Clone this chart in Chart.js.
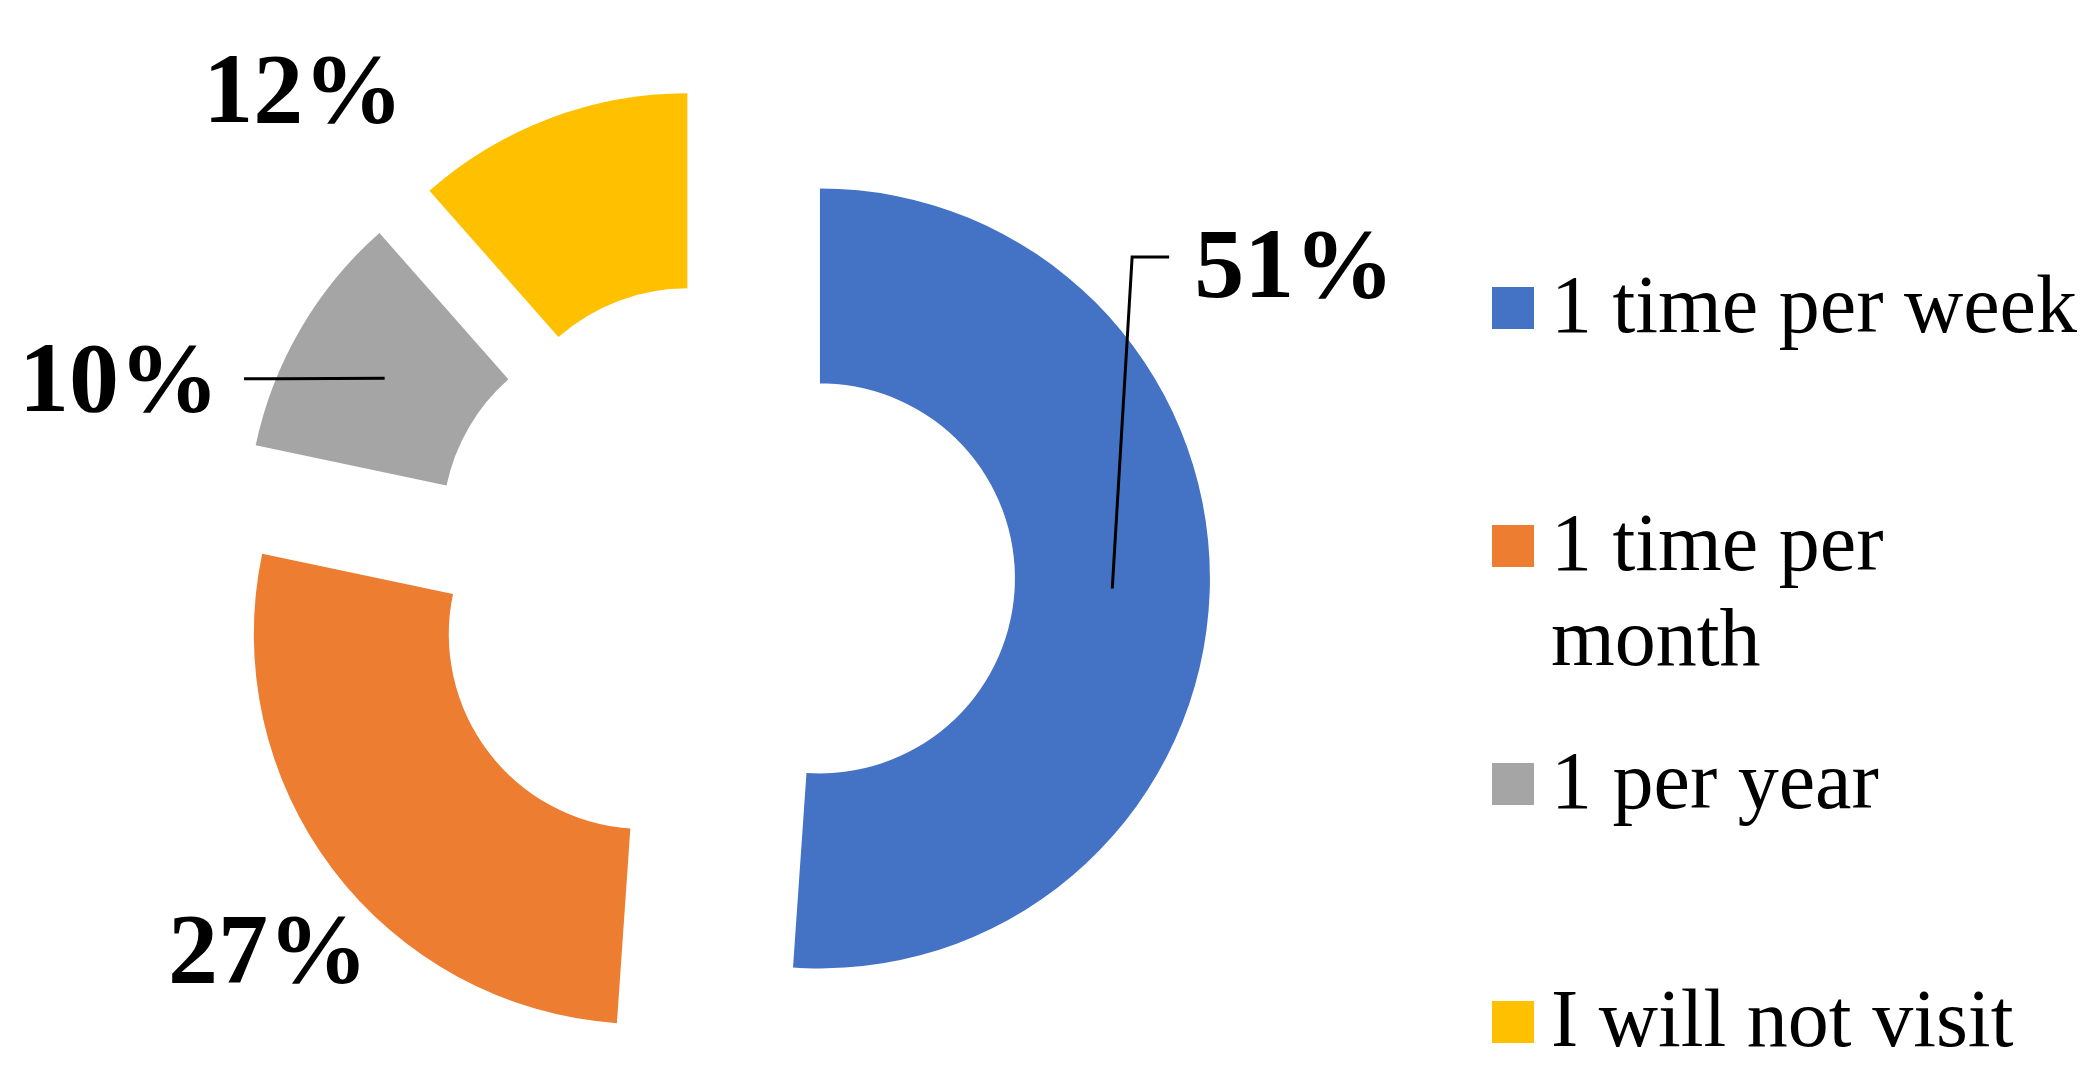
<!DOCTYPE html>
<html>
<head>
<meta charset="utf-8">
<title>Visit frequency</title>
<script src="https://cdn.jsdelivr.net/npm/chart.js@4.4.1/dist/chart.umd.min.js"></script>
<style>
    html, body { margin: 0; padding: 0; background: #fff; }
    #wrap { position: relative; width: 2100px; height: 1088px; }
    #legend {
        position: absolute; left: 1492px; top: 257px; width: 600px;
        font-family: 'Liberation Serif', 'Times New Roman', serif;
        font-size: 82px; line-height: 95px; color: #000;
    }
    .item { position: relative; height: 238px; padding-left: 59px; }
    .item .swatch { position: absolute; left: 0; top: 30px; width: 42px; height: 42px; }
    .item .text { width: 540px; }
</style>
</head>
<body>
<div id="wrap">
    <canvas id="visitChart"></canvas>
    <div id="legend"></div>
</div>
<script>
// Survey answers
const categories = ['1 time per week', '1 time per month', '1 per year', 'I will not visit'];
const shares = [51.1, 27.2, 10.2, 11.5];
const shareLabels = ['51%', '27%', '10%', '12%'];
const sliceColors = ['#4472C4', '#ED7D31', '#A5A5A5', '#FFC000'];

// Pull every slice out from the centre along its mid angle
const explodedSlices = {
    id: 'explodedSlices',
    beforeDatasetDraw(chart, args, opts) {
        const ctx = chart.ctx;
        args.meta.data.forEach(arc => {
            const mid = (arc.startAngle + arc.endAngle) / 2;
            ctx.save();
            ctx.translate(Math.cos(mid) * opts.distance, Math.sin(mid) * opts.distance);
            arc.draw(ctx, chart.chartArea);
            ctx.restore();
        });
        return false;
    }
};

// Percent labels, placed by hand like the original, with leader lines
const sliceLabels = {
    id: 'sliceLabels',
    afterDraw(chart, args, opts) {
        const ctx = chart.ctx;
        const meta = chart.getDatasetMeta(0);
        const cx = meta.data[0].x;
        const cy = meta.data[0].y;
        const R = meta.data[0].outerRadius;
        ctx.save();
        ctx.font = 'bold 100px "Liberation Serif", "Times New Roman", serif';
        ctx.fillStyle = '#000';
        ctx.strokeStyle = '#000';
        ctx.lineWidth = 3;
        ctx.textAlign = 'center';
        ctx.textBaseline = 'alphabetic';
        meta.data.forEach((arc, i) => {
            const tx = cx + opts.anchors[i][0] * R;
            const ty = cy + opts.anchors[i][1] * R;
            ctx.fillText(shareLabels[i], tx, ty);
            if (!opts.leaderRise[i]) return;
            const mid = (arc.startAngle + arc.endAngle) / 2;
            const rMid = (arc.innerRadius + arc.outerRadius) / 2 + opts.explode;
            const px = cx + Math.cos(mid) * rMid;
            const py = cy + Math.sin(mid) * rMid;
            const half = ctx.measureText(shareLabels[i]).width / 2;
            const side = px > tx ? 1 : -1;
            const ex = tx + side * (half + 25);
            const ey = ty - opts.leaderRise[i];
            ctx.beginPath();
            ctx.moveTo(px, py);
            ctx.lineTo(ex + side * 37, ey);
            ctx.lineTo(ex, ey);
            ctx.stroke();
        });
        ctx.restore();
    }
};

function buildLegend() {
    const box = document.getElementById('legend');
    categories.forEach((name, i) => {
        const item = document.createElement('div');
        item.className = 'item';
        const sw = document.createElement('span');
        sw.className = 'swatch';
        sw.style.background = sliceColors[i];
        const txt = document.createElement('div');
        txt.className = 'text';
        txt.textContent = name;
        item.appendChild(sw);
        item.appendChild(txt);
        box.appendChild(item);
    });
}

const ctx = document.getElementById('visitChart').getContext('2d');
new Chart(ctx, {
    type: 'doughnut',
    data: {
        labels: categories,
        datasets: [{
            data: shares,
            backgroundColor: sliceColors,
            borderWidth: 0
        }]
    },
    options: {
        responsive: true,
        maintainAspectRatio: false,
        animation: false,
        cutout: '50%',
        layout: {
            padding: { left: 332, right: 988, top: 185, bottom: 123 }
        },
        plugins: {
            legend: { display: false },
            tooltip: { enabled: false },
            explodedSlices: { distance: 98 },
            sliceLabels: {
                explode: 98,
                anchors: [[1.467, -0.713], [-1.164, 1.044], [-1.546, -0.421], [-1.074, -1.162]],
                // 0 = no leader line
                leaderRise: [40, 0, 32, 0]
            }
        }
    },
    plugins: [explodedSlices, sliceLabels]
});

buildLegend();
</script>
</body>
</html>
